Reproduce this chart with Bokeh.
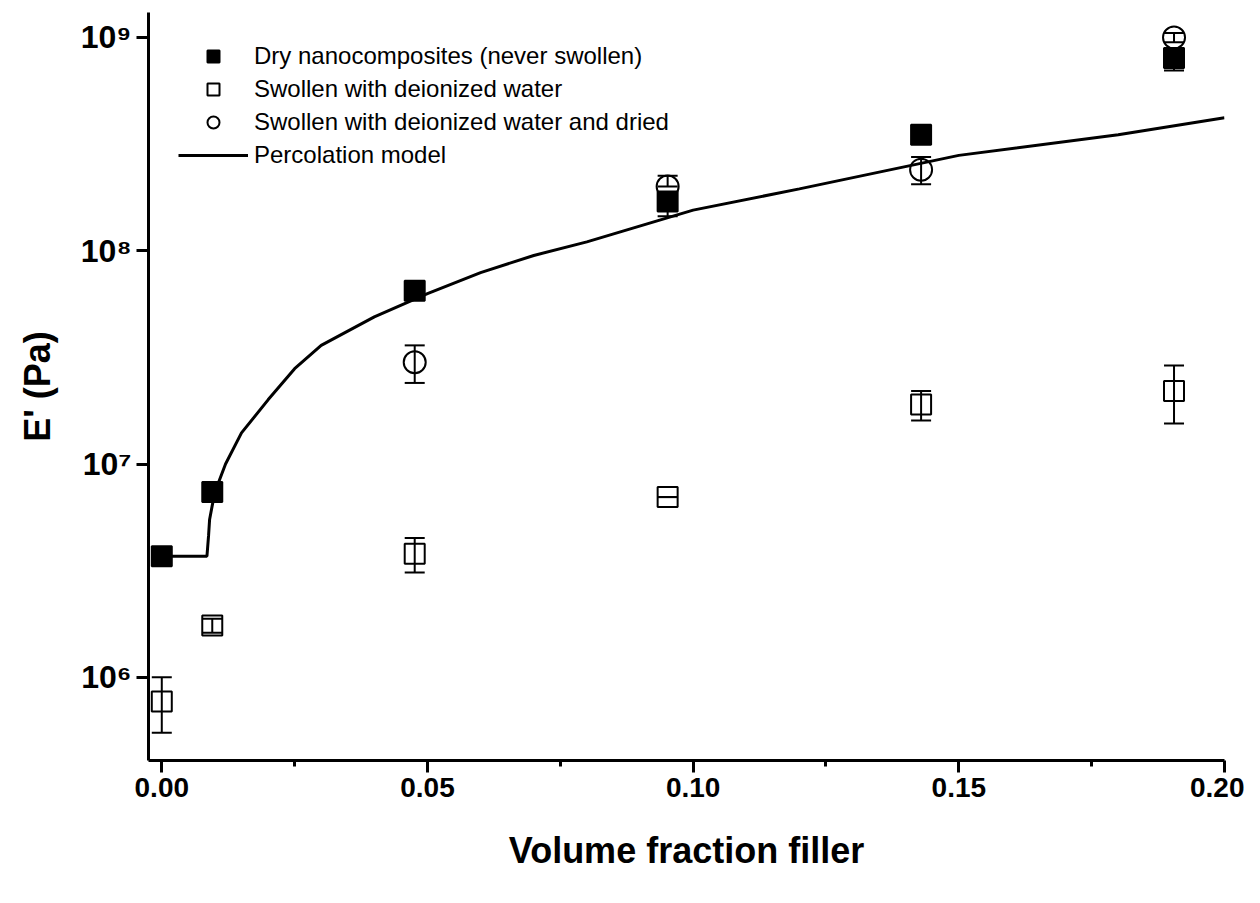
from bokeh.plotting import figure
from bokeh.models import ColumnDataSource, Whisker, TeeHead, Legend, LegendItem, FixedTicker
from bokeh.embed import file_html
from bokeh.resources import INLINE

x_all = [0.0, 0.0095, 0.0476, 0.0952, 0.1429, 0.1905]
dry = [3.7e6, 7.4e6, 6.5e7, 1.7e8, 3.5e8, 8.0e8]
dry_lo = [3.7e6, 7.4e6, 6.5e7, 1.45e8, 3.5e8, 7.0e8]
dry_hi = [3.7e6, 7.4e6, 6.5e7, 1.7e8, 3.5e8, 8.0e8]
sw = [7.7e5, 1.75e6, 3.8e6, 7.0e6, 1.9e7, 2.2e7]
sw_lo = [5.5e5, 1.62e6, 3.1e6, 7.0e6, 1.6e7, 1.55e7]
sw_hi = [1.0e6, 1.88e6, 4.5e6, 7.0e6, 2.2e7, 2.9e7]
x_dried = [0.0476, 0.0952, 0.1429, 0.1905]
dried = [3.0e7, 2.0e8, 2.4e8, 1.0e9]
dried_lo = [2.4e7, 2.0e8, 2.05e8, 0.95e9]
dried_hi = [3.6e7, 2.25e8, 2.75e8, 1.05e9]
model_x = [0.0, 0.0085, 0.0088, 0.009, 0.0095, 0.01, 0.012, 0.015, 0.02, 0.025, 0.03, 0.04, 0.05, 0.06, 0.07, 0.08, 0.1, 0.12, 0.15, 0.18, 0.2]
model_y = [3.7e6, 3.7e6, 4.6e6, 5.5e6, 6.4e6, 7.4e6, 1.0e7, 1.4e7, 2.0e7, 2.8e7, 3.6e7, 4.9e7, 6.3e7, 7.9e7, 9.5e7, 1.1e8, 1.55e8, 1.95e8, 2.8e8, 3.5e8, 4.2e8]

p = figure(width=1244, height=887, y_axis_type="log", x_range=(-0.0025, 0.2), y_range=(10**5.61, 10**9.117),
           output_backend="svg", toolbar_location=None, min_border_left=148, min_border_right=20,
           min_border_top=12, min_border_bottom=127)
p.outline_line_color = None
p.grid.visible = False

font = "Liberation Sans"
for ax in (p.xaxis[0], p.yaxis[0]):
    ax.axis_line_width = 3
    ax.major_tick_line_width = 3
    ax.minor_tick_line_width = 3
    ax.major_tick_in = 0
    ax.major_tick_out = 12
    ax.minor_tick_in = 0
    ax.minor_tick_out = 6
    ax.major_label_text_font = font
    ax.major_label_text_font_style = "bold"
    ax.major_label_text_font_size = "28px"
    ax.major_label_text_color = "black"
    ax.axis_label_text_font = font
    ax.axis_label_text_font_style = "bold"
    ax.axis_label_text_font_size = "36px"
    ax.axis_label_text_color = "black"
p.xaxis.ticker = FixedTicker(ticks=[0.0, 0.05, 0.10, 0.15, 0.20], minor_ticks=[0.025, 0.075, 0.125, 0.175])
p.xaxis.major_label_overrides = {0.0: "0.00", 0.05: "0.05", 0.1: "0.10", 0.15: "0.15", 0.2: "0.20"}
p.xaxis.axis_label = "Volume fraction filler"
p.xaxis.axis_label_standoff = 30
p.yaxis.ticker = FixedTicker(ticks=[1e6, 1e7, 1e8, 1e9], minor_ticks=[])
p.yaxis.major_label_overrides = {1e6: "10⁶", 1e7: "10⁷", 1e8: "10⁸", 1e9: "10⁹"}
p.yaxis.major_label_text_font_size = "32px"
p.yaxis.axis_label = "E' (Pa)"
p.yaxis.axis_label_standoff = 20

line = p.line(model_x, model_y, line_color="black", line_width=3)

def errs(xs, lo, hi):
    s = ColumnDataSource(dict(x=xs, lo=lo, hi=hi))
    w = Whisker(source=s, base="x", lower="lo", upper="hi", line_width=2, line_color="black",
                upper_head=TeeHead(size=20, line_width=2), lower_head=TeeHead(size=20, line_width=2))
    p.add_layout(w)

errs(x_all, dry_lo, dry_hi)
errs(x_all, sw_lo, sw_hi)
errs(x_dried, dried_lo, dried_hi)

r_sw = p.scatter(x_all, sw, marker="square", size=20, fill_color="white", fill_alpha=0.0, line_color="black", line_width=2)
r_dried = p.scatter(x_dried, dried, marker="circle", size=22, fill_color="white", fill_alpha=0.0, line_color="black", line_width=2)
r_dry = p.scatter(x_all, dry, marker="square", size=20, fill_color="black", line_color="black", line_width=2)

legend = Legend(items=[
    LegendItem(label="Dry nanocomposites (never swollen)", renderers=[r_dry]),
    LegendItem(label="Swollen with deionized water", renderers=[r_sw]),
    LegendItem(label="Swollen with deionized water and dried", renderers=[r_dried]),
    LegendItem(label="Percolation model", renderers=[line]),
], location="top_left", margin=0, padding=6, border_line_color=None, background_fill_alpha=0.0,
    label_text_font=font, label_text_font_size="24px", label_text_color="black",
    glyph_width=70, glyph_height=30, spacing=3, label_standoff=6)
legend.location = (30, 590)
p.add_layout(legend, "center")

open("out.html", "w").write(file_html(p, INLINE))
